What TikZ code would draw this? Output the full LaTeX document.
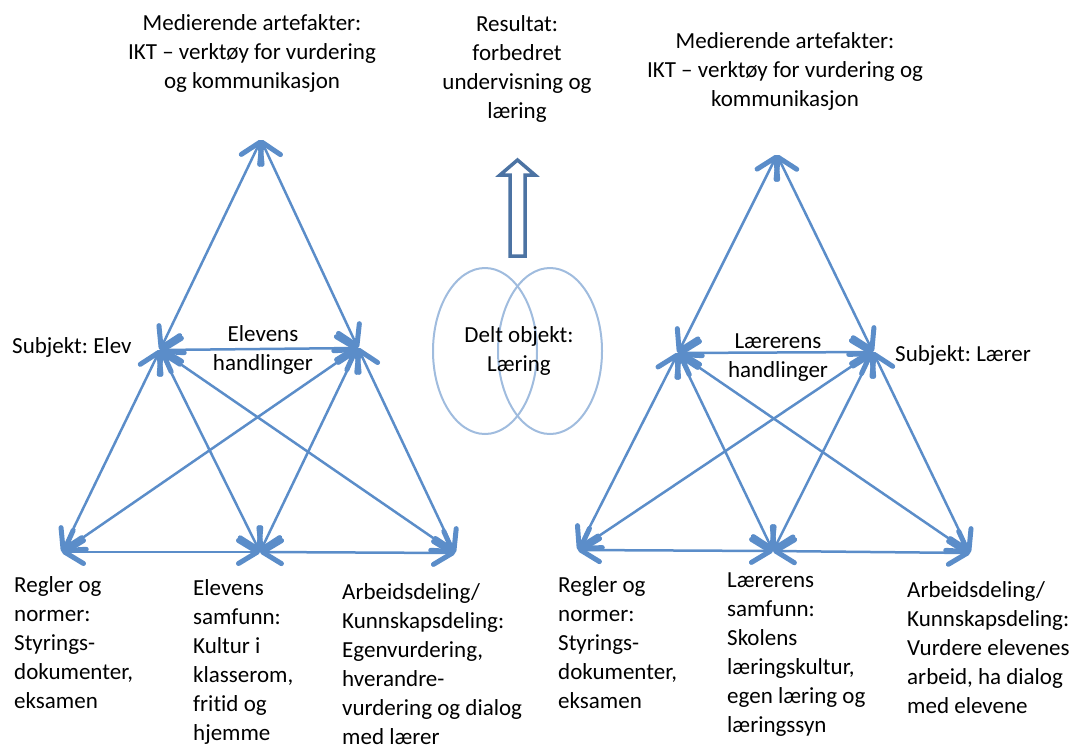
\documentclass[tikz,border=0pt]{standalone}
\usepackage{fontspec}
\setmainfont[Ligatures=NoCommon]{Carlito}
\usetikzlibrary{arrows.meta,shapes.geometric}
\definecolor{linkblue}{RGB}{91,141,201}
\definecolor{ringblue}{RGB}{160,188,222}
\definecolor{outblue}{RGB}{76,115,163}
\frenchspacing
\begin{document}
\begin{tikzpicture}[x=1pt,y=-1pt,
  barb/.tip={Straight Barb[length=19pt,width=23pt,line width'=5pt,round]},
  link/.style={draw=linkblue, line width=2.5pt, barb-barb},
  lbl/.style={font=\fontsize{23}{29}\selectfont, inner sep=0pt, align=center},
  block/.style={font=\fontsize{23}{29}\selectfont, inner sep=0pt, align=left, anchor=north west},
  ring/.style={ellipse, draw=ringblue, line width=2pt, minimum width=104pt, minimum height=166pt, inner sep=0pt},
]
\useasboundingbox (0,0) rectangle (1081,745);

% shared object: two overlapping rings
\node[ring] (ringL) at (485,351) {};
\node[ring] (ringR) at (550,351) {};

% hollow arrow towards the outcome
\draw[draw=outblue, fill=white, line width=3.5pt, line join=miter]
  (510,256) -- (510,175) -- (500,175) -- (517.5,160) -- (535,175) -- (525,175) -- (525,256) -- cycle;

% pupil's activity system
\coordinate (A1) at (261,140);
\coordinate (S1) at (160,350);
\coordinate (O1) at (358,348);
\coordinate (BL1) at (62,552);
\coordinate (BM1) at (260,552);
\coordinate (BR1) at (455,553);

% teacher's activity system
\coordinate (A2) at (777,155);
\coordinate (L2) at (678,353);
\coordinate (R2) at (873,352);
\coordinate (BL2) at (578,550);
\coordinate (BM2) at (773,551);
\coordinate (BR2) at (970,553);

\foreach \s in {1,2}{
  \ifnum\s=1
    \def\P{S1}\def\Q{O1}\def\T{A1}\def\U{BL1}\def\V{BM1}\def\W{BR1}
  \else
    \def\P{L2}\def\Q{R2}\def\T{A2}\def\U{BL2}\def\V{BM2}\def\W{BR2}
  \fi
  \draw[link] (\T) -- (\P);
  \draw[link] (\T) -- (\Q);
  \draw[link] (\P) -- (\Q);
  \draw[link] (\P) -- (\U);
  \draw[link] (\P) -- (\V);
  \draw[link] (\P) -- (\W);
  \draw[link] (\Q) -- (\U);
  \draw[link] (\Q) -- (\V);
  \draw[link] (\Q) -- (\W);
  \draw[link] (\U) -- (\V);
  \draw[link] (\V) -- (\W);
}

% labels
\node[lbl] (art1) at (252,53) {Medierende artefakter:\\IKT – verktøy for vurdering\\og kommunikasjon};
\node[lbl] (res) at (517,69) {Resultat:\\forbedret\\undervisning og\\læring};
\node[lbl] (art2) at (785,71) {Medierende artefakter:\\IKT – verktøy for vurdering og\\kommunikasjon};

\node[lbl, anchor=west] (subj1) at (12,347) {Subjekt: Elev};
\node[lbl] (act1) at (263,350) {Elevens\\handlinger};
\node[lbl] (obj) at (519,351) {Delt objekt:\\Læring};
\node[lbl] (act2) at (778,358) {Lærerens\\handlinger};
\node[lbl, anchor=west] (subj2) at (895,355) {Subjekt: Lærer};

\node[block] (rules1) at (14,576) {Regler og\\normer:\\Styrings-\\dokumenter,\\eksamen};
\node[block] (comm1) at (193,579) {Elevens\\samfunn:\\Kultur i\\klasserom,\\fritid og\\hjemme};
\node[block] (div1) at (342,583) {Arbeidsdeling/\\Kunnskapsdeling:\\Egenvurdering,\\hverandre-\\vurdering og dialog\\med lærer};
\node[block] (rules2) at (558,576) {Regler og\\normer:\\Styrings-\\dokumenter,\\eksamen};
\node[block] (comm2) at (727,573) {Lærerens\\samfunn:\\Skolens\\læringskultur,\\egen læring og\\læringssyn};
\node[block] (div2) at (907,581) {Arbeidsdeling/\\Kunnskapsdeling:\\Vurdere elevenes\\arbeid, ha dialog\\med elevene};
\end{tikzpicture}
\end{document}
